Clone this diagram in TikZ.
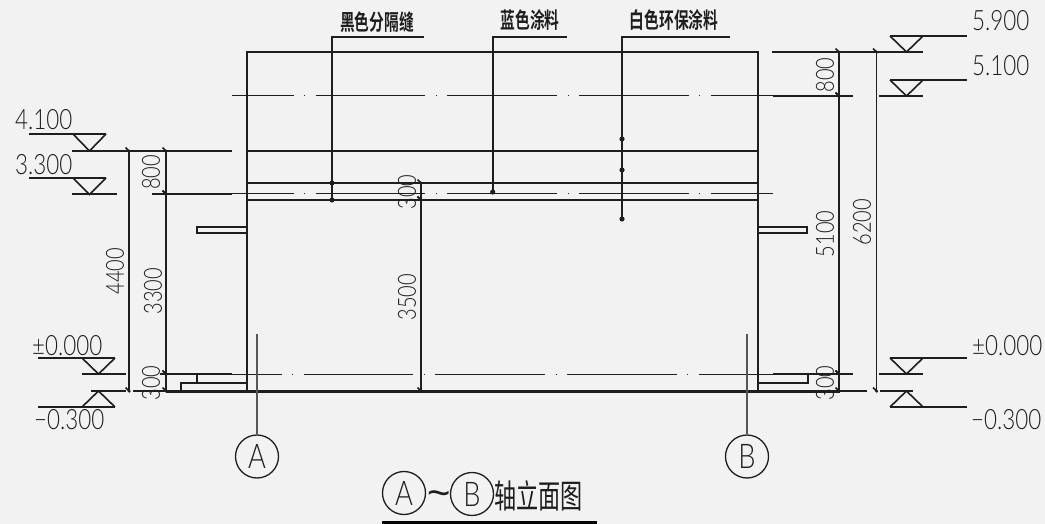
\documentclass[tikz,border=0pt]{standalone}
\usepackage{fontspec}
\usetikzlibrary{positioning}
\newfontfamily\cadfont[FakeStretch=.8]{Lato Light}
\newfontfamily\wavefont{Liberation Sans}
\newfontfamily\cjkfont[FakeStretch=.67,BoldFont={Noto Sans CJK SC Bold}]{Noto Sans CJK SC}
\definecolor{paper}{HTML}{F2F2F2}
\definecolor{ink}{HTML}{1E1E1E}
\tikzset{
	wall/.style={line width=1.6pt,ink},
	centre/.style={line width=1pt,ink,dash pattern=on 109.7pt off 10.5pt on 1pt off 10.5pt},
	lvl/.style={anchor=west,inner sep=0pt,text=ink,font=\cadfont\fontsize{28}{28}\selectfont},
	dimnum/.style={rotate=90,inner sep=0pt,text=ink,font=\cadfont\fontsize{25}{25}\selectfont},
	note/.style={inner sep=0pt,text=ink,font=\cjkfont\bfseries\fontsize{22}{22}\selectfont},
	axis/.style={circle,draw=ink,line width=1.3pt,minimum size=43pt,inner sep=0pt,text=ink,font=\cadfont\fontsize{34}{34}\selectfont},
}
\begin{document}
\begin{tikzpicture}[x=1pt,y=-1pt]
	\useasboundingbox[fill=paper] (0,0) rectangle (1045,524);

	% elevation
	\draw[wall] (247,391) -- (247,52) -- (758,52) -- (758,391);
	\foreach \y in {151,183,200}
		\draw[wall] (247,\y) -- (758,\y);
	\draw[centre,dash phase=48pt] (232,96) -- (773,96);
	\draw[centre,dash phase=48pt] (232,194) -- (773,194);
	\draw[centre,dash phase=60pt] (232,374) -- (773,374);
	\draw[line width=3pt,ink] (166,391) -- (840,391);
	\draw[wall] (197,227) rectangle (247,233);
	\draw[wall] (758,227) rectangle (807,233);
	\draw[wall] (181,391) -- (181,383) -- (247,383);
	\draw[wall] (197,374) -- (197,383);
	\draw[wall] (758,383) -- (808,383) -- (808,374);

	% extension lines
	\foreach \xa/\xb/\y in {772/923/52,773/853/96,879/923/96,72/232/151,152/232/194,72/117/194,
		82/126/374,160/232/374,773/853/374,879/923/374,91/126/391,133/166/391,840/867/391,880/913/391}
		\draw[wall] (\xa,\y) -- (\xb,\y);

	% dimension lines
	\foreach \x/\ya/\yb in {129/151/391,166/151/194,166/194/374,166/374/391,421/183/200,421/200/391,
		839/52/96,839/96/374,839/374/391,876.5/52/391}{
		\draw[wall] (\x,\ya) -- (\x,\yb);
		\foreach \y in {\ya,\yb}{
			\fill[ink] (\x,\y) circle (1.7pt);
			\draw[wall] (\x-3.5,\y-3.5) -- (\x+1,\y+1);
		}
	}
	\node[dimnum] (d800a) at (151,172.5) {800};
	\node[dimnum] (d4400) at (115,271) {4400};
	\node[dimnum] (d3300) at (153,291) {3300};
	\node[dimnum] (d300a) at (151,383) {300};
	\node[dimnum] (d300b) at (407,192) {300};
	\node[dimnum] (d3500) at (407,297) {3500};
	\node[dimnum] (d800b) at (825,75) {800};
	\node[dimnum] (d5100) at (825,234) {5100};
	\node[dimnum] (d6200) at (862,222) {6200};
	\node[dimnum] (d300c) at (825,383) {300};

	% level marks
	\foreach \ax/\ay/\by/\xa/\xb in {89.5/151/134/29/106,89.5/194.5/178/29/106,98.5/374/358/38/115,98.5/391/407/38/115,
		906.5/52/36/890/967,906.5/96/80/890/967,906.5/374/358/890/967,906.5/391/407/890/967}{
		\draw[wall] (\xa,\by) -- (\xb,\by);
		\draw[wall] (\ax-16.5,\by) -- (\ax,\ay) -- (\ax+16.5,\by);
	}
	\node[lvl] (l410) at (15,120) {4.100};
	\node[lvl] (l330) at (15,165) {3.300};
	\node[lvl] (l000a) at (32,346) {±0.000};
	\node[lvl] (l030a) at (34,420) {−0.300};
	\node[lvl] (l590) at (972,21) {5.900};
	\node[lvl] (l510) at (972,66) {5.100};
	\node[lvl] (l000b) at (972,346) {±0.000};
	\node[lvl] (l030b) at (971,420) {−0.300};

	% leaders
	\draw[wall] (424,37) -- (332,37) -- (332,200);
	\draw[wall] (567,37) -- (492.7,37) -- (492.7,192);
	\draw[wall] (730,37) -- (622,37) -- (622,219);
	\foreach \x/\y in {332/183,332/200,492.7/192,622/139,622/170,622/219}
		\fill[ink] (\x,\y) circle (2.6pt);
	\node[note] (n1) at (377,22) {黑色分隔缝};
	\node[note] (n2) at (530,20) {蓝色涂料};
	\node[note] (n3) at (674,20) {白色环保涂料};

	% axes
	\node[axis] (axA) at (257,456.5) {A};
	\node[axis] (axB) at (747,456.5) {B};
	\coordinate (axAtop) at (257,334);
	\coordinate (axBtop) at (747,334);
	\draw[line width=1.3pt,ink!75] (axA) -- (axAtop);
	\draw[line width=1.3pt,ink!75] (axB) -- (axBtop);

	% title
	\node[axis] (tA) at (404,493) {A};
	\node[axis] (tB) at (472,494) {B};
	\node[inner sep=0pt,text=ink,font=\wavefont\fontsize{40}{40}\selectfont] (tw) at (439,499) {\char`\~};
	\node[inner sep=0pt,anchor=west,text=ink,font=\cjkfont\fontsize{33}{33}\selectfont] (tt) at (494,496) {轴立面图};
	\coordinate (ula) at (382,522);
	\coordinate (ulb) at (597,522);
	\draw[line width=3pt,black] (ula) -- (ulb);
\end{tikzpicture}
\end{document}
